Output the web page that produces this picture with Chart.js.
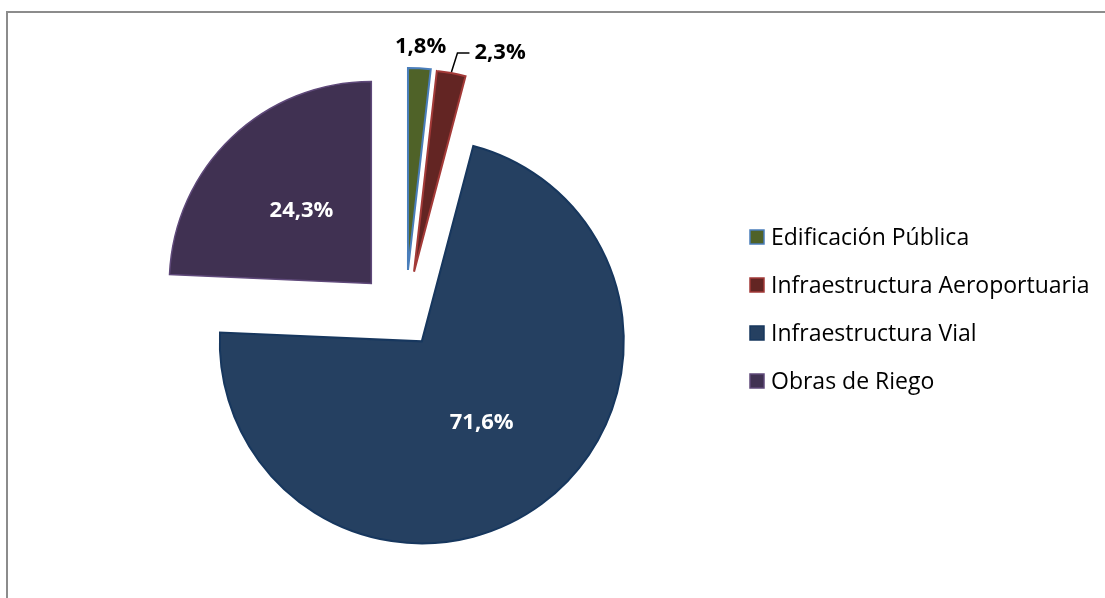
<!DOCTYPE html>
<html>
<head>
<meta charset="utf-8">
<script src="https://cdn.jsdelivr.net/npm/chart.js@4/dist/chart.umd.min.js"></script>
<style>
  html, body { margin: 0; padding: 0; background: #fff; overflow: hidden; }
  #wrap { position: relative; width: 1105px; height: 598px; }
  #frame { position: absolute; left: 6px; top: 11px; width: 1200px; height: 700px;
           border-top: 2px solid #8c8c8c; border-left: 2px solid #8c8c8c; }
  canvas { position: absolute; left: 0; top: 0; }
</style>
</head>
<body>
<div id="wrap">
  <div id="frame"></div>
  <canvas id="chart" width="1105" height="598"></canvas>
</div>
<script>
// data
const categories = ['Edificación Pública', 'Infraestructura Aeroportuaria', 'Infraestructura Vial', 'Obras de Riego'];
const shares = [1.8, 2.3, 71.6, 24.3];

// styling
const fills = ['#4f6228', '#632523', '#254061', '#403152'];
const borders = ['#4a7ebb', '#a33a38', '#17375e', '#5f497a'];
const explode = [49, 48, 28, 49];          // px each slice is pulled out
const labelMode = ['outside', 'leader', 'inside', 'inside'];
const FONT = '"Open Sans", "Noto Sans", sans-serif';

const fmt = v => v.toFixed(1).replace('.', ',') + '%';

// pull the slices out of the pie (Excel style explosion)
const explodePlugin = {
  id: 'explode',
  afterDatasetUpdate(chart, args) {
    args.meta.data.forEach((arc, i) => {
      const mid = (arc.startAngle + arc.endAngle) / 2;
      arc.x += Math.cos(mid) * explode[i];
      arc.y += Math.sin(mid) * explode[i];
    });
  }
};

const labelPlugin = {
  id: 'sliceLabels',
  afterDatasetsDraw(chart) {
    const ctx = chart.ctx;
    const arcs = chart.getDatasetMeta(0).data;
    ctx.save();
    ctx.font = 'bold 22px ' + FONT;
    ctx.textBaseline = 'middle';
    arcs.forEach((arc, i) => {
      const text = fmt(shares[i]);
      const mid = (arc.startAngle + arc.endAngle) / 2;
      const c = Math.cos(mid), s = Math.sin(mid);
      const r = arc.outerRadius;
      if (labelMode[i] === 'inside') {
        const p = arc.tooltipPosition();
        ctx.fillStyle = '#ffffff';
        ctx.textAlign = 'center';
        ctx.fillText(text, p.x, p.y);
      } else if (labelMode[i] === 'outside') {
        ctx.fillStyle = '#000000';
        ctx.textAlign = 'center';
        ctx.fillText(text, arc.x + c * (r + 22), arc.y + s * (r + 22));
      } else {
        const x0 = arc.x + c * (r + 1), y0 = arc.y + s * (r + 1);
        const x1 = x0 + 6, y1 = y0 - 19;
        ctx.strokeStyle = '#000000';
        ctx.lineWidth = 1.5;
        ctx.beginPath();
        ctx.moveTo(x0, y0);
        ctx.lineTo(x1, y1);
        ctx.lineTo(x1 + 12, y1);
        ctx.stroke();
        ctx.fillStyle = '#000000';
        ctx.textAlign = 'left';
        ctx.fillText(text, x1 + 17, y1);
      }
    });
    ctx.restore();
  }
};

const legendPlugin = {
  id: 'sideLegend',
  afterDraw(chart) {
    const ctx = chart.ctx;
    ctx.save();
    ctx.font = '23px ' + FONT;
    ctx.textBaseline = 'middle';
    ctx.textAlign = 'left';
    categories.forEach((name, i) => {
      const cy = 237 + i * 48;
      ctx.fillStyle = fills[i];
      ctx.fillRect(750, cy - 7, 14, 14);
      ctx.strokeStyle = borders[i];
      ctx.lineWidth = 1.5;
      ctx.strokeRect(750, cy - 7, 14, 14);
      ctx.fillStyle = '#000000';
      ctx.fillText(name, 771, cy + 1);
    });
    ctx.restore();
  }
};

new Chart(document.getElementById('chart'), {
  type: 'pie',
  data: {
    labels: categories,
    datasets: [{
      data: shares,
      backgroundColor: fills,
      borderColor: borders,
      borderWidth: [2, 2, 2, 1.5],
      borderJoinStyle: 'miter'
    }]
  },
  options: {
    responsive: false,
    animation: false,
    events: [],
    radius: 202,
    layout: { padding: { left: 0, top: 39.6, right: 294.6, bottom: 0 } },
    plugins: {
      legend: { display: false },
      tooltip: { enabled: false }
    }
  },
  plugins: [explodePlugin, labelPlugin, legendPlugin]
});
</script>
</body>
</html>
